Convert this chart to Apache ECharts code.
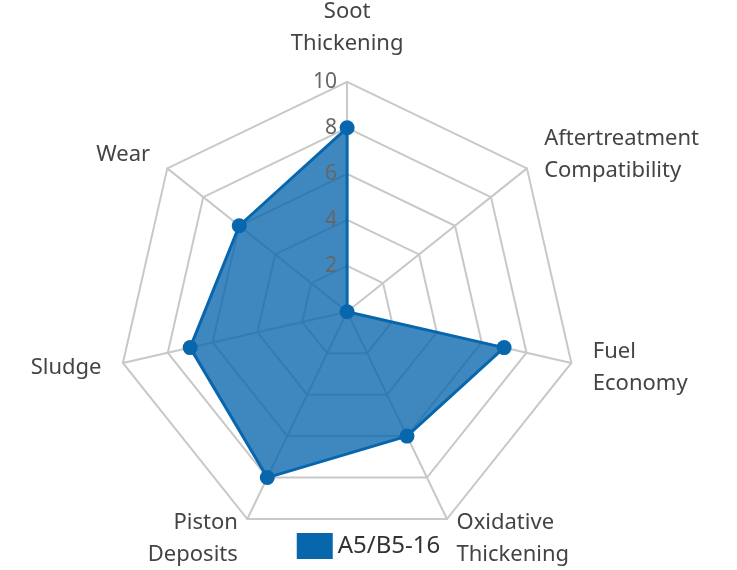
<!DOCTYPE html><html><head><meta charset="utf-8"><script src="https://cdn.jsdelivr.net/npm/echarts@6/dist/echarts.min.js"></script></head><body style="margin:0"><div id="c" style="width:737px;height:570px"></div><script>
// counterclockwise order starting at top
const categories=['Soot\nThickening','Wear','Sludge','Piston\nDeposits','Oxidative\nThickening','Fuel\nEconomy','Aftertreatment\nCompatibility'];
const values=[8,6,7,8,6,7,0];
const seriesName='A5/B5-16';
const ticks=[0,2,4,6,8,10];
const c=echarts.init(document.getElementById('c'));
const center=['47.1%','54.7%'],R=230,font='Noto Sans';
c.setOption({
 textStyle:{fontFamily:font},
 legend:{bottom:6,left:'center',itemWidth:36,itemHeight:26,itemGap:10,icon:'rect',textStyle:{fontSize:24,color:'#333',fontFamily:font},data:[seriesName]},
 polar:{center:center,radius:R},
 angleAxis:{startAngle:90,show:false,min:0,max:360},
 radiusAxis:{min:ticks[0],max:ticks[ticks.length-1],interval:2,axisLine:{show:false},axisTick:{show:false},splitLine:{show:false},z:10,
   axisLabel:{fontSize:21,color:'#666',margin:0,align:'right',verticalAlign:'middle',padding:[0,10,0,0],formatter:v=>v===0?'':String(v)}},
 radar:{center:center,radius:R,startAngle:90,splitNumber:5,shape:'polygon',
  indicator:categories.map(n=>({name:n,max:10,min:0})),
  axisName:{color:'#444',fontSize:22,lineHeight:32},nameGap:22,
  splitLine:{lineStyle:{color:'#c8c8c8',width:2}},axisLine:{lineStyle:{color:'#c8c8c8',width:2}},splitArea:{show:false}},
 series:[{type:'radar',name:seriesName,data:[{value:values,name:seriesName}],symbol:'circle',symbolSize:15,
  itemStyle:{color:'#0866ad'},lineStyle:{width:3,color:'#0866ad'},areaStyle:{color:'#0866ad',opacity:0.78}}]
});
</script></body></html>
